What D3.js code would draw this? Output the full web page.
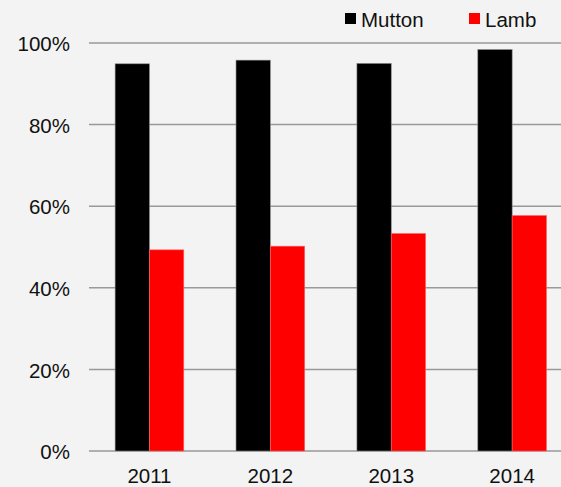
<!DOCTYPE html>
<html>
<head>
  <script src="https://d3js.org/d3.v7.min.js"></script>
  <style>
    body { margin: 0; background: #f3f3f3; }
    svg { display: block; }
    text { font-family: "Liberation Sans", Arial, sans-serif; fill: #111; }
  </style>
</head>
<body>
  <svg width="561" height="487"></svg>
  <script>
    const years = ['2011', '2012', '2013', '2014'];
    const series = ['Mutton', 'Lamb'];
    const mutton = [0.949, 0.958, 0.950, 0.984];
    const lamb = [0.493, 0.502, 0.533, 0.577];
    const colors = ['#000000', '#ff0000'];
    const yTicks = [0, 0.2, 0.4, 0.6, 0.8, 1.0];

    const svg = d3.select('svg');
    const width = +svg.attr('width');

    // plot area runs past the right edge (cropped chart)
    const x = d3.scaleBand()
      .domain(years)
      .range([89, 572.6])
      .paddingInner(0.432)
      .paddingOuter(0.216);

    const xSub = d3.scaleBand()
      .domain(series)
      .range([0, x.bandwidth()]);

    const y = d3.scaleLinear()
      .domain([0, 1])
      .range([451, 43]);

    // gridlines
    svg.append('g')
      .selectAll('line')
      .data(yTicks)
      .enter().append('line')
      .attr('x1', 89)
      .attr('x2', width)
      .attr('y1', d => y(d))
      .attr('y2', d => y(d))
      .attr('stroke', '#999')
      .attr('stroke-width', 1.5);

    // y labels
    svg.append('g')
      .selectAll('text')
      .data(yTicks)
      .enter().append('text')
      .attr('x', 70)
      .attr('y', d => y(d) + 1)
      .attr('dy', '0.35em')
      .attr('text-anchor', 'end')
      .style('font-size', '20.5px')
      .text(d3.format('.0%'));

    // bars
    const rows = years.map((yr, i) => ({ year: yr, values: [mutton[i], lamb[i]] }));
    const group = svg.append('g')
      .selectAll('g')
      .data(rows)
      .enter().append('g')
      .attr('transform', d => `translate(${x(d.year)},0)`);

    group.selectAll('rect')
      .data(d => d.values.map((v, j) => ({ key: series[j], value: v, j })))
      .enter().append('rect')
      .attr('x', d => xSub(d.key))
      .attr('width', xSub.bandwidth())
      .attr('y', d => y(d.value))
      .attr('height', d => y(0) - y(d.value))
      .attr('fill', d => colors[d.j])
      .attr('stroke', d => d.j === 0 ? '#8a8a8a' : '#ff6060')
      .attr('stroke-width', 0.6);

    // x labels
    svg.append('g')
      .selectAll('text')
      .data(years)
      .enter().append('text')
      .attr('x', d => x(d) + x.bandwidth() / 2)
      .attr('y', 483)
      .attr('text-anchor', 'middle')
      .style('font-size', '20.5px')
      .text(d => d);

    // legend
    const legendX = [345, 469];
    const legend = svg.append('g')
      .selectAll('g')
      .data(series)
      .enter().append('g')
      .attr('transform', (d, i) => `translate(${legendX[i]},13)`);

    legend.append('rect')
      .attr('width', 11)
      .attr('height', 11)
      .attr('fill', (d, i) => colors[i]);

    legend.append('text')
      .attr('x', 16)
      .attr('y', 13.5)
      .style('font-size', '20.5px')
      .text(d => d);
  </script>
</body>
</html>
